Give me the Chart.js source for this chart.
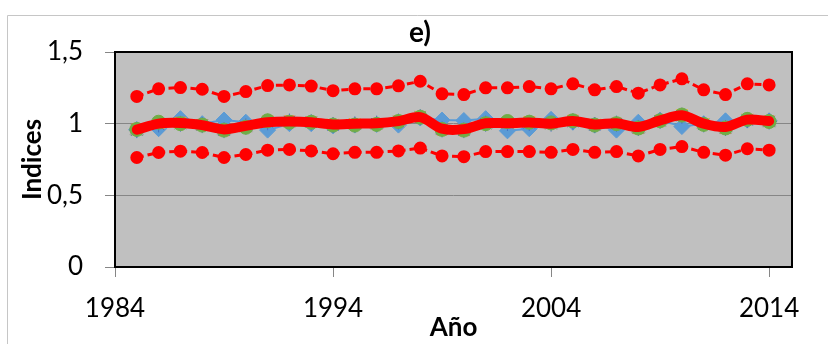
<!DOCTYPE html>
<html>
<head>
<meta charset="utf-8">
<script src="https://cdn.jsdelivr.net/npm/chart.js@4/dist/chart.umd.min.js"></script>
<style>
  html, body { margin: 0; padding: 0; background: #ffffff; }
  #wrap { width: 828px; height: 344px; }
</style>
</head>
<body>
<div id="wrap"><canvas id="c" width="828" height="344"></canvas></div>
<script>
// Años de la serie
const years = [1985,1986,1987,1988,1989,1990,1991,1992,1993,1994,1995,1996,1997,1998,1999,
               2000,2001,2002,2003,2004,2005,2006,2007,2008,2009,2010,2011,2012,2013,2014];

// Índice medio y sus límites superior e inferior
const meanIndex = [0.958,1.000,1.005,0.990,0.960,0.985,1.010,1.015,1.010,0.995,1.000,1.003,1.018,1.046,0.965,
                   0.962,1.003,1.003,1.008,1.000,1.018,0.995,1.003,0.977,1.023,1.058,1.000,0.977,1.028,1.018];
const upperBound = [1.190,1.243,1.252,1.240,1.190,1.224,1.266,1.270,1.262,1.230,1.243,1.243,1.264,1.296,1.208,
                    1.203,1.250,1.250,1.259,1.243,1.278,1.236,1.259,1.213,1.270,1.313,1.236,1.203,1.278,1.270];
const lowerBound = [0.764,0.799,0.808,0.799,0.764,0.785,0.815,0.820,0.810,0.790,0.800,0.800,0.810,0.830,0.775,
                    0.770,0.805,0.805,0.805,0.800,0.820,0.800,0.805,0.775,0.820,0.840,0.800,0.780,0.825,0.815];

// Índices individuales
const serieA = [0.960,0.965,1.035,1.000,1.025,1.010,0.955,1.000,1.000,0.985,0.990,0.995,0.990,1.040,1.025,
                1.022,1.035,0.950,0.965,1.030,1.010,0.990,0.955,1.010,1.025,0.980,1.000,1.020,1.025,1.020];
const serieB = [0.965,1.005,1.010,0.995,0.950,0.980,1.020,1.020,1.015,0.990,0.995,1.000,1.020,1.050,0.955,
                0.950,1.005,1.010,1.015,1.005,1.025,0.990,1.005,0.965,1.025,1.060,0.995,0.965,1.030,1.020];
const serieC = [0.950,0.995,1.000,0.985,0.950,0.975,1.015,1.010,1.005,0.990,0.990,0.995,1.010,1.040,0.955,
                0.955,0.995,1.000,1.005,0.995,1.015,0.990,0.995,0.965,1.020,1.055,0.995,0.970,1.025,1.010];
const serieD = [0.955,1.000,1.005,0.990,0.955,0.980,1.015,1.015,1.010,0.995,1.000,1.000,1.015,1.050,0.960,
                0.955,1.000,1.005,1.010,1.000,1.020,0.995,1.000,0.970,1.020,1.060,1.000,0.970,1.030,1.015];
const serieE = [0.955,0.995,1.000,0.990,0.955,0.980,1.010,1.015,1.010,0.990,0.995,1.000,1.015,1.045,0.960,
                0.955,1.000,1.005,1.005,1.000,1.015,0.990,1.000,0.970,1.020,1.055,0.995,0.970,1.025,1.015];
const serieF = [0.960,1.010,1.000,0.990,0.955,0.975,1.020,1.010,1.010,0.990,0.990,0.995,1.015,1.045,0.960,
                0.955,1.000,1.015,1.010,1.005,1.020,0.990,1.000,0.970,1.020,1.060,0.995,0.970,1.030,1.015];

// Ejes
const xTickYears = [1984, 1994, 2004, 2014];
const yTickValues = [0, 0.5, 1, 1.5];
const yTickLabels = ['0', '0,5', '1', '1,5'];

const pts = vals => years.map((yr, i) => ({ x: yr, y: vals[i] }));

function markerSeries(vals, color, style, radius, order) {
  return {
    data: pts(vals),
    borderColor: color,
    backgroundColor: color,
    borderWidth: 2,
    pointStyle: style,
    pointRadius: radius,
    pointBorderWidth: 1,
    pointBorderColor: color,
    pointBackgroundColor: color,
    tension: 0,
    order: order
  };
}

const FONT = 'Lato, "Open Sans", sans-serif';

// Fondo gris del área de trazado, marco y título
const frame = {
  id: 'frame',
  beforeDraw(chart) {
    const { ctx, chartArea: a } = chart;
    ctx.save();
    ctx.fillStyle = '#ffffff';
    ctx.fillRect(0, 0, chart.width, chart.height);
    ctx.strokeStyle = '#c6c6c6';
    ctx.lineWidth = 1;
    ctx.beginPath();
    ctx.moveTo(7.5, chart.height);
    ctx.lineTo(7.5, 15.5);
    ctx.lineTo(chart.width, 15.5);
    ctx.stroke();
    ctx.fillStyle = '#c0c0c0';
    ctx.fillRect(a.left, a.top, a.right - a.left, a.bottom - a.top);
    ctx.restore();
  },
  afterDraw(chart) {
    const { ctx, chartArea: a } = chart;
    ctx.save();
    ctx.strokeStyle = '#000000';
    ctx.lineWidth = 2;
    ctx.strokeRect(a.left, a.top, a.right - a.left, a.bottom - a.top);
    ctx.fillStyle = '#000000';
    ctx.font = 'bold 28px ' + FONT;
    ctx.textAlign = 'center';
    ctx.textBaseline = 'middle';
    ctx.fillText('e)', 420, 33);
    ctx.restore();
  }
};

new Chart(document.getElementById('c'), {
  type: 'line',
  data: {
    datasets: [
      {
        data: pts(meanIndex),
        borderColor: '#ff0000',
        backgroundColor: '#ff0000',
        borderWidth: 10,
        borderCapStyle: 'round',
        borderJoinStyle: 'round',
        pointRadius: 0,
        tension: 0.3,
        order: 0
      },
      {
        data: pts(upperBound),
        borderColor: '#ff0000',
        backgroundColor: '#ff0000',
        borderWidth: 3,
        borderDash: [7, 4],
        pointRadius: 5,
        pointStyle: 'circle',
        tension: 0,
        order: 1
      },
      {
        data: pts(lowerBound),
        borderColor: '#ff0000',
        backgroundColor: '#ff0000',
        borderWidth: 3,
        borderDash: [7, 4],
        pointRadius: 5,
        pointStyle: 'circle',
        tension: 0,
        order: 1
      },
      markerSeries(serieF, '#70ad47', 'circle', 7, 2),
      markerSeries(serieE, '#4472c4', 'star', 8, 3),
      markerSeries(serieD, '#ffc000', 'crossRot', 8, 4),
      markerSeries(serieC, '#a5a5a5', 'triangle', 8, 5),
      markerSeries(serieB, '#ed7d31', 'rect', 7, 6),
      markerSeries(serieA, '#5b9bd5', 'rectRot', 8, 7)
    ]
  },
  options: {
    responsive: false,
    animation: false,
    layout: { padding: { left: 0, top: 52, right: 36, bottom: 0 } },
    plugins: {
      legend: { display: false },
      tooltip: { enabled: false },
      title: { display: false }
    },
    scales: {
      x: {
        type: 'linear',
        min: 1984,
        max: 2015.05,
        afterBuildTicks(scale) { scale.ticks = xTickYears.map(v => ({ value: v })); },
        afterFit(scale) { scale.height = 77; },
        border: { display: false },
        grid: { drawOnChartArea: false, drawTicks: true, tickLength: 10, color: '#868686', lineWidth: 1 },
        ticks: {
          color: '#000000',
          padding: 16,
          maxRotation: 0,
          autoSkip: false,
          font: { family: FONT, size: 26 },
          callback: v => String(v)
        },
        title: {
          display: true,
          text: 'Año',
          color: '#000000',
          font: { family: FONT, size: 26, weight: 'bold' },
          padding: { top: 0, bottom: 1 }
        }
      },
      y: {
        min: 0,
        max: 1.5,
        afterBuildTicks(scale) { scale.ticks = yTickValues.map(v => ({ value: v })); },
        afterFit(scale) { scale.width = 115; },
        border: { display: false },
        grid: { color: '#868686', lineWidth: 1, drawTicks: true, tickLength: 10 },
        ticks: {
          color: '#000000',
          padding: 22,
          font: { family: FONT, size: 26 },
          callback: v => yTickLabels[yTickValues.indexOf(v)]
        },
        title: {
          display: true,
          text: 'Indices',
          color: '#000000',
          font: { family: FONT, size: 26, weight: 'bold' },
          padding: { top: 17, bottom: 0 }
        }
      }
    }
  },
  plugins: [frame]
});
</script>
</body>
</html>
